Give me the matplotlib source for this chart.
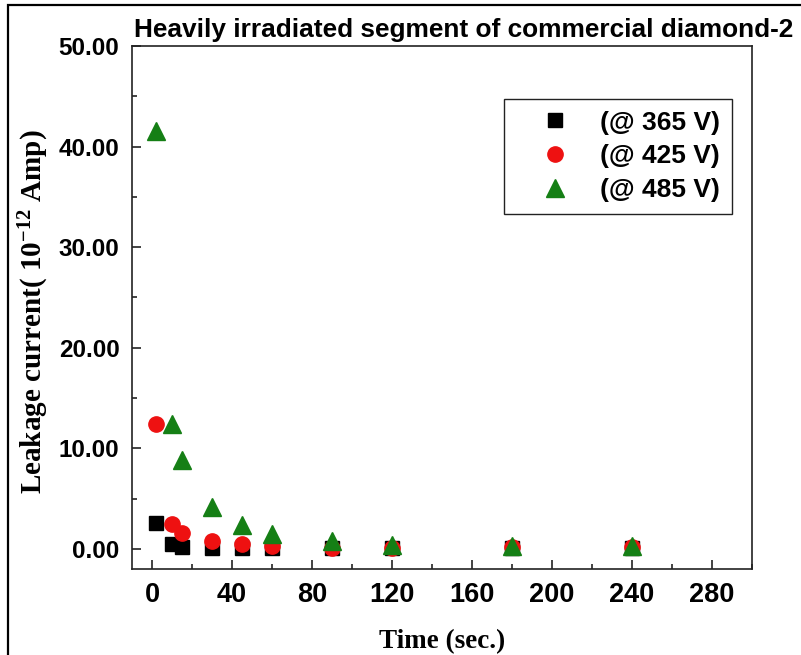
import matplotlib
matplotlib.use("Agg")
import matplotlib.pyplot as plt
from matplotlib.ticker import MultipleLocator, FormatStrFormatter
from matplotlib.patches import Rectangle

# ---- data ----
time_s = [2, 10, 15, 30, 45, 60, 90, 120, 180, 240]
i_365 = [2.55, 0.5, 0.16, 0.05, 0.05, 0.05, 0.08, 0.1, 0.12, 0.12]
i_425 = [12.4, 2.5, 1.55, 0.8, 0.5, 0.25, 0.1, 0.1, 0.2, 0.2]
i_485 = [41.5, 12.4, 8.8, 4.2, 2.4, 1.5, 0.8, 0.35, 0.3, 0.3]
labels = ["(@ 365 V)", "(@ 425 V)", "(@ 485 V)"]
title = "Heavily irradiated segment of commercial diamond-2"
xlabel = "Time (sec.)"
ylabel = r"Leakage current( 10$^{\mathrm{-12}}$ Amp)"

plt.rcParams['mathtext.fontset'] = 'custom'
plt.rcParams['mathtext.rm'] = 'Liberation Serif:bold'
plt.rcParams['mathtext.it'] = 'Liberation Serif:bold'
plt.rcParams['mathtext.bf'] = 'Liberation Serif:bold'

W, H = 801, 655
fig = plt.figure(figsize=(W / 100, H / 100), dpi=100)
ax = fig.add_axes([132 / W, 1 - 569 / H, (752 - 132) / W, (569 - 46) / H])

ax.plot(time_s, i_365, linestyle='none', marker='s', markersize=10, color='black', label=labels[0])
ax.plot(time_s, i_425, linestyle='none', marker='o', markersize=11, color='#ee1111', label=labels[1])
ax.plot(time_s, i_485, linestyle='none', marker='^', markersize=13.5, color='#157f15', label=labels[2])

ax.set_xlim(-10, 300)
ax.set_ylim(-2, 50)
ax.xaxis.set_major_locator(MultipleLocator(40))
ax.xaxis.set_minor_locator(MultipleLocator(20))
ax.yaxis.set_major_locator(MultipleLocator(10))
ax.yaxis.set_minor_locator(MultipleLocator(5))
ax.yaxis.set_major_formatter(FormatStrFormatter('%.2f'))
ax.set_xticks([0, 40, 80, 120, 160, 200, 240, 280])

for s in ax.spines.values():
    s.set_linewidth(1.2)
    s.set_color('#222222')

ax.tick_params(which='both', direction='in', width=1.2, color='#222222')
ax.tick_params(which='major', length=6.5)
ax.tick_params(which='minor', length=3.6)
ax.tick_params(axis='y', which='major', pad=9, labelsize=17.5)
ax.tick_params(axis='x', which='major', pad=9, labelsize=19.5)
for lab in ax.get_xticklabels() + ax.get_yticklabels():
    lab.set_fontfamily('Liberation Sans')
    lab.set_fontweight('bold')

ax.set_xlabel(xlabel, fontfamily='Liberation Serif', fontweight='bold', fontsize=19.5)
ax.xaxis.label.set_va('baseline')
ax.xaxis.set_label_coords(0.5, (569 - 648) / 523)
ax.set_ylabel(ylabel, fontfamily='Liberation Serif', fontweight='bold', fontsize=21)
ax.yaxis.label.set_va('center')
ax.yaxis.set_label_coords((34 - 132) / 620, (569 - 312) / 523)

leg = ax.legend(loc='upper right', bbox_to_anchor=(0.968, 0.899), numpoints=1,
                prop={'family': 'Liberation Sans', 'weight': 'bold', 'size': 19},
                frameon=True, fancybox=False, edgecolor='#222222', framealpha=1,
                borderpad=0.45, handlelength=3.0, handletextpad=0.2, labelspacing=0.37,
                borderaxespad=0)
leg.get_frame().set_linewidth(1.0)

fig.text(134 / W, 1 - 37 / H, title, fontfamily='Liberation Sans', fontweight='bold',
         fontsize=18.9, ha='left', va='baseline')

fig.patches.append(Rectangle((7.5 / W, -0.1), 1.2, 1 - 5 / H + 0.1, transform=fig.transFigure,
                             fill=False, edgecolor='black', linewidth=1.6))

fig.savefig('out.png', dpi=100)
